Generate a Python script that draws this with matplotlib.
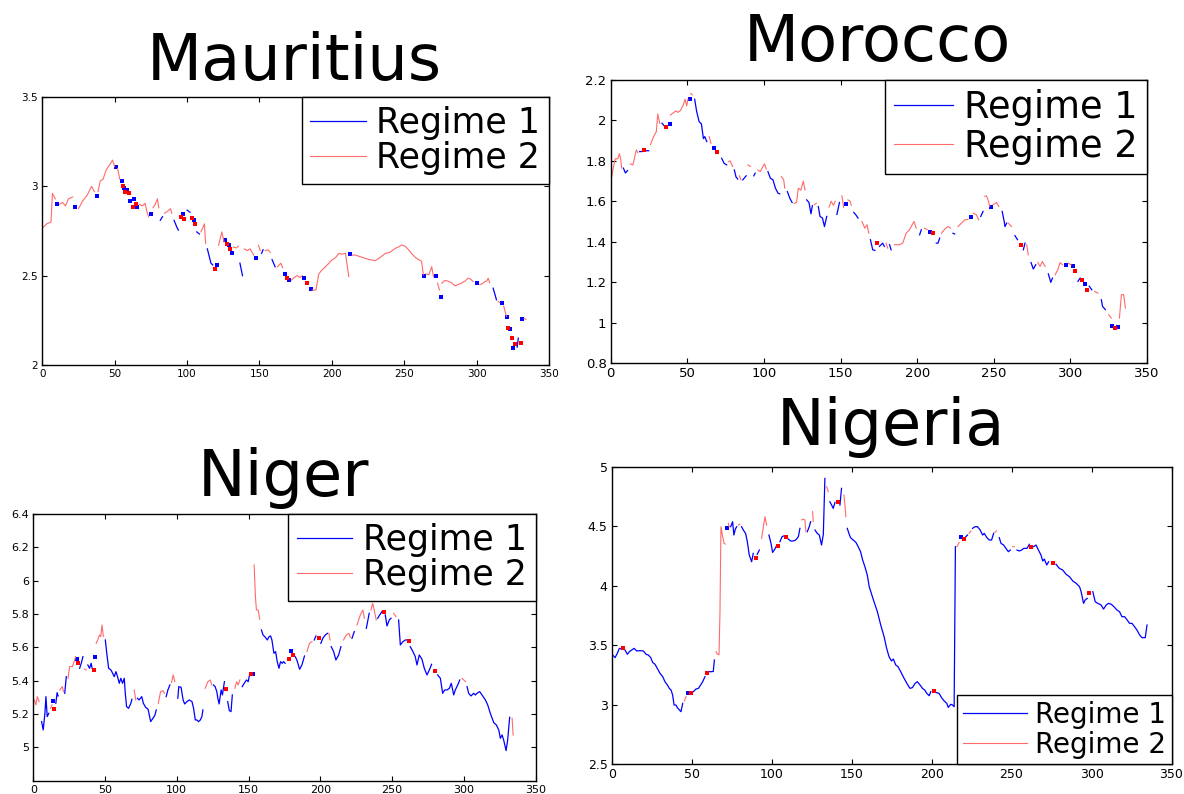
import numpy as np
import matplotlib
matplotlib.use("Agg")
import matplotlib.pyplot as plt
from matplotlib.ticker import FuncFormatter

# Each row: (observation index, log value, regime)
mauritius = [
    (0, 2.765, 2), (3, 2.79, 2), (6, 2.80, 2), (7, 2.96, 2), (9, 2.93, 2), (10, 2.90, 1),
    (12, 2.90, 2), (14, 2.91, 2), (16, 2.89, 2), (18, 2.93, 2), (21, 2.94, 2), (22.5, 2.885, 1),
    (25, 2.875, 2), (28, 2.92, 2), (31, 2.95, 2), (34, 3.00, 2), (36, 2.97, 2), (37.5, 2.945, 1),
    (38.5, 2.97, 2), (40, 3.03, 2), (42, 3.04, 2), (44, 3.09, 2), (46.5, 3.12, 2), (48.5, 3.147, 2),
    (50, 3.11, 2), (51, 3.11, 1), (52, 3.10, 2), (53.5, 3.04, 2), (55, 3.03, 1), (55.7, 3.00, 2),
    (56.3, 2.99, 1), (57.3, 2.97, 2), (58.7, 2.98, 1), (59.6, 2.96, 2), (60.8, 2.92, 1),
    (62.6, 2.885, 2), (63.5, 2.93, 1), (64.4, 2.90, 2), (65.3, 2.885, 1), (67, 2.90, 2),
    (69, 2.89, 2), (71, 2.905, 2), (72.2, 2.86, 2), (73.4, 2.83, 2), (75, 2.845, 1),
    (76.5, 2.88, 2), (78, 2.90, 2), (79.5, 2.93, 2), (80.5, 2.88, 2), (81.5, 2.81, 1),
    (83, 2.83, 1), (84.5, 2.85, 2), (86.5, 2.86, 2), (88.5, 2.875, 2), (89.5, 2.85, 2),
    (91, 2.81, 1), (93, 2.77, 1), (94, 2.755, 1), (95.5, 2.83, 2), (97, 2.845, 1),
    (98.2, 2.815, 2), (100, 2.867, 1), (102, 2.855, 1), (103.4, 2.823, 2), (105, 2.81, 1),
    (105.8, 2.787, 2), (106.7, 2.745, 1), (108.5, 2.733, 1), (109.6, 2.745, 2), (112, 2.79, 2),
    (112.8, 2.68, 2), (114, 2.65, 1), (116.5, 2.57, 1), (117.7, 2.56, 1), (119.3, 2.538, 2),
    (121, 2.56, 1), (121.8, 2.67, 2), (124, 2.745, 2), (125.5, 2.69, 2), (126.5, 2.70, 1),
    (127.5, 2.68, 2), (128.7, 2.67, 1), (129.7, 2.65, 2), (130.8, 2.625, 1), (132, 2.66, 2),
    (134, 2.655, 2), (135.5, 2.665, 2), (136.5, 2.57, 1), (138.3, 2.50, 1), (139.5, 2.65, 2),
    (141.5, 2.64, 2), (143.5, 2.65, 2), (146, 2.615, 2), (147.5, 2.60, 1), (149.3, 2.67, 2),
    (150.5, 2.64, 2), (151.5, 2.625, 1), (152.5, 2.645, 1), (154, 2.64, 2), (156, 2.645, 2),
    (157.5, 2.63, 2), (158.7, 2.59, 1), (160.8, 2.55, 1), (162.5, 2.55, 2), (164.7, 2.57, 2),
    (166, 2.545, 2), (167.7, 2.51, 1), (169.3, 2.486, 2), (170.4, 2.473, 1), (172, 2.475, 2),
    (174, 2.49, 2), (176, 2.50, 2), (178, 2.49, 2), (179.5, 2.50, 2), (180.7, 2.486, 1),
    (183, 2.458, 2), (185.3, 2.424, 1), (186.5, 2.42, 2), (189, 2.42, 2), (191, 2.51, 2),
    (193, 2.53, 2), (195.6, 2.55, 2), (198, 2.57, 2), (200, 2.588, 2), (202.5, 2.60, 2),
    (204.8, 2.625, 2), (207, 2.62, 2), (209.4, 2.625, 2), (211.7, 2.495, 2), (212.8, 2.62, 1),
    (214, 2.615, 2), (216, 2.616, 2), (220, 2.605, 2), (223, 2.597, 2), (226, 2.59, 2),
    (230, 2.584, 2), (233, 2.60, 2), (237, 2.625, 2), (240, 2.63, 2), (243.8, 2.653, 2),
    (246, 2.66, 2), (248.3, 2.672, 2), (250.6, 2.665, 2), (253, 2.645, 2), (255, 2.625, 2),
    (258, 2.60, 2), (262, 2.58, 2), (263.2, 2.505, 2), (263.8, 2.50, 1), (265, 2.51, 2),
    (267, 2.505, 2), (269, 2.55, 2), (270.2, 2.495, 2), (271.7, 2.50, 1), (273, 2.458, 2),
    (274.3, 2.42, 2), (275.2, 2.383, 1), (276, 2.458, 2), (278, 2.473, 2), (280, 2.47, 2),
    (282.7, 2.46, 2), (285, 2.443, 2), (287, 2.45, 2), (289.6, 2.458, 2), (292, 2.47, 2),
    (294.2, 2.486, 2), (296, 2.48, 2), (297.6, 2.467, 2), (300, 2.458, 1), (302.2, 2.45, 2),
    (304, 2.455, 2), (305.7, 2.467, 2), (307, 2.47, 2), (308, 2.486, 2), (309, 2.46, 2),
    (311.4, 2.43, 1), (312.5, 2.40, 1), (313.7, 2.365, 1), (314.8, 2.356, 2), (316, 2.35, 2),
    (317.6, 2.346, 1), (318.7, 2.33, 2), (320.6, 2.272, 2), (321.3, 2.27, 1), (321.9, 2.207, 2),
    (322.9, 2.203, 1), (324.3, 2.15, 2), (325.3, 2.095, 1), (326.5, 2.12, 2), (328, 2.10, 1),
    (328.8, 2.15, 1), (330.9, 2.123, 2), (331.6, 2.26, 1), (333, 2.26, 2), (334, 2.255, 2),
]

morocco = [
    (0.7, 1.722, 2), (1.8, 1.77, 2), (2.9, 1.81, 2), (4.6, 1.81, 2), (5.7, 1.835, 2), (6.6, 1.805, 2),
    (7.2, 1.764, 2), (8.3, 1.764, 1), (9.6, 1.74, 1), (11, 1.752, 1), (12.7, 1.785, 2),
    (14.5, 1.78, 2), (15.4, 1.81, 2), (16.7, 1.854, 2), (17.8, 1.84, 2), (18.9, 1.846, 1),
    (20.4, 1.846, 1), (21.5, 1.854, 2), (23, 1.85, 1), (24.8, 1.85, 1), (25.9, 1.88, 2),
    (28, 1.92, 2), (29.8, 1.945, 2), (30.7, 2.032, 2), (32, 1.986, 2), (33.5, 1.986, 1),
    (35, 1.973, 1), (36.2, 1.966, 2), (38.4, 1.983, 1), (39, 2.027, 2), (41.2, 2.04, 2),
    (42.5, 2.047, 2), (43.9, 2.04, 2), (45.6, 2.05, 2), (47.4, 2.077, 2), (48.5, 2.105, 2),
    (49.6, 2.072, 2), (50.4, 2.105, 2), (51.5, 2.106, 1), (52.2, 2.134, 2), (53.3, 2.126, 2),
    (54.8, 2.105, 1), (56.1, 2.044, 1), (57.7, 1.994, 1), (59.2, 1.983, 1), (60.5, 1.91, 1),
    (61.4, 1.92, 1), (62.7, 1.895, 1), (64.3, 1.92, 2), (65.4, 1.887, 2), (67.5, 1.862, 1),
    (69.3, 1.846, 2), (72.4, 1.813, 1), (74, 1.788, 1), (75.7, 1.78, 1), (76.8, 1.796, 2),
    (78, 1.80, 2), (79.6, 1.772, 2), (80.7, 1.755, 1), (81.8, 1.72, 1), (82.9, 1.71, 1),
    (84, 1.726, 2), (85, 1.706, 2), (86.2, 1.706, 1), (88.4, 1.726, 1), (89.5, 1.78, 2),
    (91.2, 1.772, 2), (93.4, 1.726, 1), (94.3, 1.739, 1), (96, 1.755, 2), (97.6, 1.747, 2),
    (99.3, 1.772, 2), (100.4, 1.785, 2), (101.5, 1.76, 2), (102.6, 1.747, 1), (104.2, 1.714, 1),
    (105.9, 1.706, 1), (107.5, 1.665, 1), (109.2, 1.64, 1), (110.3, 1.637, 1), (111.4, 1.722, 2),
    (112.9, 1.706, 2), (113.6, 1.665, 2), (115.3, 1.648, 1), (116.9, 1.615, 1), (118.4, 1.594, 1),
    (119.7, 1.59, 2), (121.3, 1.594, 2), (122.4, 1.665, 2), (124.1, 1.655, 2), (125.7, 1.70, 2),
    (126.8, 1.656, 2), (127.9, 1.607, 1), (129.4, 1.594, 1), (130.7, 1.538, 1), (131.6, 1.578, 1),
    (132.9, 1.583, 2), (134.2, 1.59, 2), (135.5, 1.574, 1), (136.6, 1.525, 1), (138.2, 1.517, 1),
    (139.5, 1.475, 1), (141, 1.525, 1), (142.5, 1.571, 2), (143.9, 1.60, 2), (145.4, 1.58, 2),
    (146.5, 1.60, 2), (147.6, 1.535, 1), (149.3, 1.594, 1), (150.9, 1.627, 2), (152, 1.57, 2),
    (153.5, 1.587, 1), (154.8, 1.607, 2), (156.3, 1.60, 2), (157, 1.58, 2), (158.6, 1.545, 1),
    (160, 1.533, 1), (161.4, 1.517, 1), (164, 1.50, 2), (165.8, 1.467, 2), (167.3, 1.484, 2),
    (168.4, 1.442, 2), (169.5, 1.41, 1), (171, 1.36, 1), (172.4, 1.357, 1), (173.9, 1.393, 2),
    (175.4, 1.377, 1), (177.5, 1.393, 1), (178.6, 1.377, 1), (179.7, 1.393, 2), (180.8, 1.368, 2),
    (182, 1.385, 1), (183, 1.36, 1), (185.2, 1.385, 2), (188.5, 1.385, 2), (190.6, 1.393, 2),
    (192.8, 1.442, 2), (195, 1.459, 2), (196.1, 1.475, 2), (197.9, 1.50, 2), (199.4, 1.467, 2),
    (201.6, 1.434, 1), (202.7, 1.459, 1), (204.8, 1.467, 2), (206.5, 1.46, 2), (208.1, 1.45, 1),
    (210.3, 1.442, 2), (212.5, 1.393, 1), (213.6, 1.393, 1), (214.7, 1.418, 1), (215.8, 1.442, 2),
    (218, 1.462, 2), (220.1, 1.475, 2), (221.8, 1.467, 2), (223.4, 1.442, 1), (224.5, 1.438, 1),
    (226.7, 1.475, 2), (228.9, 1.492, 2), (231.1, 1.508, 2), (233.2, 1.51, 2), (235, 1.52, 1),
    (236.5, 1.541, 2), (238.7, 1.533, 2), (240.2, 1.508, 2), (241.5, 1.525, 1), (243, 1.55, 1),
    (244.2, 1.624, 2), (245.2, 1.627, 2), (246.3, 1.607, 2), (247.4, 1.574, 2), (248.5, 1.574, 1),
    (249.6, 1.583, 2), (251.8, 1.594, 2), (253.3, 1.574, 2), (255.5, 1.55, 1), (256.8, 1.50, 1),
    (257.3, 1.475, 1), (258.4, 1.492, 1), (259.4, 1.492, 2), (261.6, 1.475, 2), (263.8, 1.43, 1),
    (265.5, 1.41, 1), (267.7, 1.385, 2), (269.3, 1.36, 1), (270.4, 1.393, 1), (271.5, 1.385, 2),
    (272.5, 1.335, 2), (274.3, 1.297, 1), (275.8, 1.265, 1), (277.4, 1.286, 1), (278.7, 1.297, 2),
    (280.2, 1.278, 2), (281.7, 1.302, 2), (283.5, 1.278, 2), (285.6, 1.241, 1), (287.2, 1.199, 1),
    (288.3, 1.22, 1), (290, 1.236, 2), (291.8, 1.261, 2), (293.3, 1.297, 2), (294.8, 1.286, 2),
    (297, 1.286, 1), (298.8, 1.294, 2), (300.5, 1.285, 2), (302, 1.281, 1), (303.1, 1.253, 2),
    (304.9, 1.204, 1), (306.4, 1.22, 1), (307.9, 1.21, 2), (309.7, 1.192, 1), (310.8, 1.162, 2),
    (312.3, 1.18, 1), (314, 1.162, 1), (315.8, 1.154, 2), (318, 1.146, 2), (320.2, 1.113, 1),
    (321, 1.08, 1), (322.8, 1.064, 1), (325, 1.039, 2), (326.7, 1.022, 2), (327.3, 0.985, 1),
    (329.3, 0.973, 2), (331.1, 0.976, 1), (332, 1.022, 2), (333.3, 1.138, 2), (334.8, 1.138, 2),
    (335.9, 1.072, 2),
]

niger = [
    (0.7, 5.284, 2), (1.8, 5.254, 2), (2.8, 5.304, 2), (4.1, 5.274, 2), (5.8, 5.154, 1),
    (6.9, 5.104, 1), (8.1, 5.204, 1), (8.8, 5.304, 1), (9.7, 5.184, 1), (10.8, 5.204, 1),
    (12, 5.234, 2), (13.1, 5.254, 2), (13.8, 5.278, 1), (14.5, 5.228, 2), (15.7, 5.264, 1),
    (16.6, 5.328, 1), (17.3, 5.308, 1), (18.4, 5.344, 2), (20.3, 5.364, 2), (21, 5.334, 2),
    (21.9, 5.324, 1), (23, 5.424, 1), (24.2, 5.414, 2), (25.3, 5.484, 2), (27.2, 5.484, 2),
    (28.1, 5.504, 2), (29.5, 5.544, 2), (30.4, 5.528, 1), (31.1, 5.504, 2), (32.3, 5.474, 1),
    (33.4, 5.504, 1), (34.6, 5.544, 1), (35.7, 5.47, 2), (36.9, 5.464, 2), (38, 5.494, 1),
    (39.2, 5.474, 1), (40.3, 5.504, 1), (41, 5.474, 1), (42.6, 5.464, 2), (43.3, 5.544, 1),
    (43.8, 5.624, 2), (44.9, 5.644, 2), (46.1, 5.674, 2), (47, 5.664, 2), (47.9, 5.734, 2),
    (48.8, 5.664, 2), (50.2, 5.644, 1), (51.2, 5.564, 1), (52.5, 5.474, 1), (54.1, 5.464, 1),
    (55.3, 5.444, 1), (56.4, 5.424, 1), (57.6, 5.454, 1), (58.7, 5.424, 1), (59.9, 5.384, 1),
    (61, 5.414, 1), (62.2, 5.384, 1), (63.4, 5.414, 1), (64.1, 5.324, 1), (65, 5.244, 1),
    (66.4, 5.234, 1), (68, 5.264, 1), (68.7, 5.288, 1), (70.3, 5.344, 2), (71.4, 5.284, 2),
    (72.6, 5.294, 1), (73.7, 5.284, 1), (75.6, 5.304, 1), (76.7, 5.264, 1), (78.3, 5.24, 1),
    (80, 5.228, 1), (81.8, 5.154, 1), (83.4, 5.174, 1), (84.8, 5.194, 1), (85.7, 5.224, 1),
    (87.1, 5.264, 2), (88.7, 5.334, 2), (90.3, 5.34, 2), (91.5, 5.324, 2), (92.6, 5.304, 1),
    (93.8, 5.344, 1), (95.2, 5.374, 1), (96.3, 5.388, 2), (97.5, 5.434, 2), (98.6, 5.394, 2),
    (100.7, 5.294, 1), (101.4, 5.364, 1), (103, 5.36, 1), (104.4, 5.284, 1), (105.5, 5.26, 1),
    (107.1, 5.274, 1), (108.7, 5.284, 1), (110.6, 5.274, 1), (111.7, 5.234, 1), (112.9, 5.164, 1),
    (114, 5.164, 1), (115.2, 5.154, 1), (116.4, 5.164, 1), (117.5, 5.184, 1), (118.2, 5.224, 1),
    (119.8, 5.354, 2), (121.7, 5.394, 2), (123.3, 5.404, 2), (124.4, 5.374, 2), (125.6, 5.374, 1),
    (126.7, 5.364, 1), (127.9, 5.334, 1), (128.6, 5.294, 1), (129.5, 5.26, 1), (130.9, 5.344, 1),
    (131.8, 5.314, 1), (133.2, 5.394, 1), (134.3, 5.348, 2), (135.5, 5.274, 1), (136.6, 5.22, 1),
    (137.8, 5.214, 1), (138.7, 5.314, 1), (140.5, 5.354, 2), (141.7, 5.394, 2), (142.8, 5.374, 2),
    (144, 5.404, 2), (145.6, 5.364, 1), (147, 5.384, 1), (148.6, 5.404, 1), (149.8, 5.394, 1),
    (150.9, 5.444, 1), (152, 5.438, 2), (153.2, 5.44, 1), (153.9, 6.094, 2), (154.8, 5.904, 2),
    (155.5, 5.824, 2), (156.7, 5.824, 2), (157.8, 5.768, 2), (159, 5.704, 1), (160.1, 5.674, 1),
    (161.3, 5.664, 1), (163.1, 5.644, 1), (164.3, 5.664, 1), (165.4, 5.668, 1), (166.3, 5.644, 1),
    (167.7, 5.564, 1), (168.9, 5.574, 1), (170, 5.514, 1), (171.2, 5.474, 1), (172.3, 5.514, 1),
    (173.5, 5.504, 1), (174.4, 5.514, 1), (175.5, 5.504, 1), (177.9, 5.528, 2), (179.7, 5.578, 1),
    (180.7, 5.554, 2), (182.5, 5.544, 1), (183.7, 5.524, 1), (185.6, 5.468, 1), (187.2, 5.494, 1),
    (189, 5.548, 1), (190.7, 5.574, 2), (192.5, 5.624, 2), (194.2, 5.634, 2), (195.8, 5.644, 1),
    (197, 5.668, 1), (198.8, 5.654, 2), (200.4, 5.624, 1), (201.8, 5.654, 1), (203.5, 5.674, 1),
    (205.1, 5.684, 1), (206, 5.684, 2), (206.8, 5.644, 2), (207.6, 5.604, 1), (209.3, 5.574, 1),
    (210.9, 5.524, 1), (212.8, 5.554, 1), (214.4, 5.604, 1), (216.2, 5.644, 2), (218.1, 5.674, 2),
    (220, 5.684, 2), (220.9, 5.66, 2), (222.1, 5.654, 1), (223.7, 5.694, 1), (225.6, 5.734, 2),
    (227.9, 5.794, 2), (229.7, 5.824, 2), (230.7, 5.774, 2), (232.1, 5.714, 1), (233.2, 5.764, 1),
    (234.1, 5.804, 1), (235.3, 5.824, 2), (236.5, 5.864, 2), (237.6, 5.824, 2), (239, 5.764, 2),
    (240, 5.774, 1), (241.4, 5.794, 1), (243, 5.814, 1), (244.2, 5.81, 2), (245.3, 5.794, 1),
    (246.5, 5.728, 1), (248.1, 5.764, 1), (249.3, 5.774, 1), (251.1, 5.804, 2), (252.8, 5.784, 2),
    (254.6, 5.764, 1), (255.8, 5.614, 1), (257.6, 5.634, 1), (259.3, 5.644, 1), (260.4, 5.644, 1),
    (261.6, 5.638, 2), (262.7, 5.604, 1), (264.6, 5.574, 1), (266.2, 5.544, 1), (267.4, 5.494, 1),
    (269, 5.554, 1), (270.9, 5.528, 1), (272.5, 5.474, 1), (274.4, 5.434, 1), (276, 5.464, 1),
    (277.6, 5.498, 1), (280, 5.458, 2), (281.8, 5.434, 1), (283.7, 5.414, 1), (285.3, 5.324, 1),
    (286.7, 5.344, 1), (288.3, 5.344, 1), (290, 5.354, 1), (291.3, 5.384, 1), (293, 5.314, 1),
    (294.1, 5.344, 1), (295.8, 5.374, 1), (297.2, 5.404, 1), (298.8, 5.414, 2), (300, 5.404, 2),
    (301.2, 5.394, 2), (302.3, 5.364, 1), (303.4, 5.324, 1), (305, 5.308, 1), (306.9, 5.324, 1),
    (308.1, 5.314, 1), (309.2, 5.324, 1), (311.1, 5.334, 1), (312.7, 5.314, 1), (315.1, 5.284, 1),
    (316.7, 5.254, 1), (318.5, 5.204, 1), (320.9, 5.148, 1), (322.7, 5.134, 1), (324.4, 5.104, 1),
    (325.5, 5.054, 1), (326.7, 5.074, 1), (327.8, 5.044, 1), (329.5, 4.98, 1), (330.6, 5.044, 1),
    (332, 5.18, 1), (333.7, 5.174, 2), (334.4, 5.074, 2),
]

nigeria = [
    (0.6, 3.418, 1), (2.1, 3.396, 1), (3.5, 3.432, 1), (4.8, 3.474, 1), (6.2, 3.468, 1),
    (7.3, 3.48, 2), (8.3, 3.46, 1), (9.8, 3.424, 1), (11, 3.446, 1), (12.5, 3.46, 1),
    (14, 3.474, 1), (15.6, 3.452, 1), (17.7, 3.455, 1), (19.8, 3.452, 1), (21.5, 3.424, 1),
    (22.9, 3.418, 1), (24.4, 3.396, 1), (25.6, 3.356, 1), (27.1, 3.34, 1), (28.5, 3.306, 1),
    (30.2, 3.264, 1), (31.9, 3.236, 1), (33.3, 3.194, 1), (34.8, 3.166, 1), (36, 3.138, 1),
    (37.1, 3.124, 1), (38.1, 3.082, 1), (39, 2.998, 1), (40.2, 2.998, 1), (41, 2.976, 1),
    (42.3, 2.956, 1), (43.3, 2.942, 1), (44.4, 3.012, 1), (45.4, 3.032, 2), (46.5, 3.068, 2),
    (47.9, 3.102, 1), (49.6, 3.102, 2), (51, 3.11, 1), (52.7, 3.132, 1), (54.2, 3.138, 1),
    (55.6, 3.166, 1), (56.9, 3.194, 1), (58.3, 3.236, 1), (59.4, 3.264, 2), (61, 3.278, 1),
    (62.5, 3.278, 1), (63.5, 3.28, 1), (64.2, 3.376, 1), (65.2, 3.446, 2), (66.2, 3.424, 2),
    (67.1, 3.42, 2), (67.7, 3.782, 2), (68.3, 4.496, 2), (69.2, 4.426, 2), (70.2, 4.356, 2),
    (71, 4.35, 2), (71.9, 4.482, 1), (72.9, 4.524, 2), (73.5, 4.496, 2), (74.4, 4.496, 1),
    (75.6, 4.538, 1), (76.4, 4.426, 1), (77.3, 4.476, 1), (78.1, 4.496, 1), (79.2, 4.51, 2),
    (80.2, 4.515, 2), (81.2, 4.496, 1), (82.3, 4.468, 1), (83.7, 4.44, 1), (84.8, 4.37, 1),
    (86, 4.258, 1), (87.5, 4.202, 1), (88.5, 4.272, 1), (90, 4.236, 2), (91, 4.264, 1),
    (92.3, 4.30, 1), (93.7, 4.398, 2), (94.8, 4.496, 2), (95.8, 4.58, 2), (96.9, 4.51, 2),
    (98.3, 4.426, 1), (99.6, 4.356, 1), (100.6, 4.28, 1), (102.1, 4.31, 1), (103.1, 4.336, 1),
    (104.2, 4.336, 2), (105.2, 4.37, 1), (106.5, 4.412, 1), (107.5, 4.418, 1), (108.7, 4.412, 2),
    (110.4, 4.392, 1), (111.9, 4.376, 1), (113.5, 4.376, 1), (115, 4.384, 1), (116.7, 4.412, 1),
    (117.7, 4.482, 1), (118.7, 4.552, 2), (119.8, 4.56, 2), (120.8, 4.552, 2), (121.4, 4.454, 2),
    (122.3, 4.454, 1), (123.5, 4.496, 1), (124.4, 4.538, 1), (125.6, 4.622, 2), (126, 4.54, 2),
    (127.1, 4.468, 1), (128.5, 4.44, 1), (129.8, 4.426, 1), (131.2, 4.342, 1), (132.3, 4.43, 1),
    (133.3, 4.902, 1), (134.4, 4.832, 2), (135.4, 4.79, 2), (136.4, 4.706, 1), (137.5, 4.678, 1),
    (138.5, 4.65, 1), (139.6, 4.70, 1), (141.2, 4.70, 2), (142.7, 4.678, 1), (143.7, 4.818, 1),
    (145.2, 4.762, 2), (145.8, 4.68, 2), (146.4, 4.58, 2), (147.3, 4.482, 1), (148.3, 4.44, 1),
    (149.3, 4.404, 1), (151, 4.384, 1), (152.7, 4.364, 1), (154.1, 4.328, 1), (155.6, 4.286, 1),
    (156.9, 4.216, 1), (158.3, 4.16, 1), (159.8, 4.09, 1), (161, 3.992, 1), (164, 3.866, 1),
    (166.1, 3.782, 1), (168.2, 3.67, 1), (170.3, 3.572, 1), (171.9, 3.474, 1), (173.4, 3.404, 1),
    (174.9, 3.368, 1), (176.1, 3.384, 1), (177.6, 3.334, 1), (179, 3.32, 1), (180.7, 3.278, 1),
    (182.8, 3.222, 1), (184.9, 3.172, 1), (186.5, 3.138, 1), (188, 3.144, 1), (189.7, 3.18, 1),
    (191.1, 3.194, 1), (192.8, 3.166, 1), (194.3, 3.138, 1), (195.7, 3.124, 1), (197, 3.096, 1),
    (198.5, 3.076, 1), (199.5, 3.11, 1), (201.2, 3.118, 2), (202.6, 3.104, 1), (204.7, 3.096, 1),
    (206.2, 3.06, 1), (207.9, 3.032, 1), (209.5, 3.012, 1), (210.4, 2.978, 1), (212, 3.004, 1),
    (213.1, 2.998, 1), (214.1, 2.984, 1), (214.9, 4.328, 1), (215.8, 4.328, 2), (217.3, 4.364, 2),
    (218.7, 4.412, 1), (220, 4.392, 2), (221.4, 4.412, 1), (222.5, 4.426, 1), (223.5, 4.44, 2),
    (224.6, 4.46, 2), (225.6, 4.482, 1), (227.1, 4.496, 1), (228.7, 4.496, 1), (230.4, 4.468, 1),
    (231.9, 4.426, 1), (232.9, 4.44, 1), (234.6, 4.404, 1), (236.1, 4.384, 1), (237.5, 4.384, 1),
    (238.8, 4.44, 1), (239.6, 4.448, 2), (240.5, 4.46, 2), (242.3, 4.404, 1), (243.4, 4.356, 1),
    (245, 4.342, 1), (246.5, 4.314, 1), (248, 4.286, 1), (249.2, 4.30, 1), (250.7, 4.328, 2),
    (251.7, 4.328, 2), (253.4, 4.30, 1), (254.9, 4.292, 1), (256.3, 4.30, 1), (257.6, 4.314, 1),
    (259.7, 4.314, 1), (261.1, 4.348, 1), (262.2, 4.328, 2), (263.8, 4.328, 1), (265.3, 4.342, 1),
    (266.8, 4.30, 1), (268.4, 4.258, 1), (269.5, 4.208, 1), (270.5, 4.224, 1), (272, 4.174, 1),
    (273.2, 4.202, 1), (275.8, 4.188, 2), (277.8, 4.18, 1), (279.9, 4.146, 1), (282, 4.132, 1),
    (284.1, 4.096, 1), (286.2, 4.076, 1), (288.3, 4.04, 1), (290.4, 4.02, 1), (292.5, 3.992, 1),
    (293.5, 3.95, 1), (295, 3.852, 1), (296, 3.88, 1), (297.3, 3.894, 1), (298.7, 3.936, 2),
    (300.8, 3.95, 1), (302.3, 3.866, 1), (303.9, 3.852, 1), (306, 3.838, 1), (307.5, 3.804, 1),
    (309.2, 3.838, 1), (310.6, 3.852, 1), (312.3, 3.845, 1), (314, 3.824, 1), (315.9, 3.796, 1),
    (317.5, 3.782, 1), (319, 3.74, 1), (320.7, 3.74, 1), (322.3, 3.712, 1), (323.8, 3.684, 1),
    (325.3, 3.684, 1), (326.9, 3.656, 1), (328.4, 3.628, 1), (330.1, 3.586, 1), (331.5, 3.564, 1),
    (333.6, 3.564, 1), (334.7, 3.67, 1),
]

country_names = ["Mauritius", "Morocco", "Niger", "Nigeria"]
regime_names = ["Regime 1", "Regime 2"]
x_ticks = [0, 50, 100, 150, 200, 250, 300, 350]
y_ticks = {
    "Mauritius": [2, 2.5, 3, 3.5],
    "Morocco": [0.8, 1, 1.2, 1.4, 1.6, 1.8, 2, 2.2],
    "Niger": [5, 5.2, 5.4, 5.6, 5.8, 6, 6.2, 6.4],
    "Nigeria": [2.5, 3, 3.5, 4, 4.5, 5],
}
y_limits = {
    "Mauritius": (2, 3.5),
    "Morocco": (0.8, 2.2),
    "Niger": (4.8, 6.4),
    "Nigeria": (2.5, 5),
}

BLUE = "#0000ff"
RED_LINE = "#ff6a6a"
RED_DOT = "#ff0000"

W, H = 1184, 794
fig = plt.figure(figsize=(W / 100, H / 100), dpi=100)
fig.patch.set_facecolor("white")

# panel geometry in pixels: (left, top, right, bottom)
big_legend = dict(fs=25, hl=1.6, tp=0.3, bp=0.25, ls=0.05)
layout = {
    "Mauritius": dict(box=(42.3, 97, 549, 365), title=(294, 80), tick_fs=7.5,
                      leg=dict(loc="upper right", anchor=(1, 1), **big_legend)),
    "Morocco": dict(box=(610.7, 80, 1147, 363), title=(877, 61), tick_fs=9.5,
                    leg=dict(loc="upper right", anchor=(1, 1), fs=26.5, hl=1.6, tp=0.3,
                             bp=0.25, ls=0.05)),
    "Niger": dict(box=(33.3, 514, 535.5, 780.6), title=(284, 496), tick_fs=8,
                  leg=dict(loc="upper right", anchor=(1, 1), **big_legend)),
    "Nigeria": dict(box=(611.7, 466.7, 1171.5, 764.3), title=(891, 445), tick_fs=9,
                    leg=dict(loc="lower right", anchor=(1, 0), fs=20, hl=2.3, tp=0.3,
                             bp=0.2, ls=0.08)),
}

datasets = {"Mauritius": mauritius, "Morocco": morocco, "Niger": niger, "Nigeria": nigeria}


def fmt_g(val, pos):
    return "%g" % round(val, 6)


def draw_series(ax, rows):
    arr = np.array(rows, dtype=float)
    t, v, s = arr[:, 0], arr[:, 1], arr[:, 2].astype(int)
    handles = []
    for reg, line_col, dot_col, lw in ((1, BLUE, BLUE, 0.9), (2, RED_LINE, RED_DOT, 0.8)):
        on = s == reg
        h, = ax.plot(t, np.where(on, v, np.nan), color=line_col, lw=lw)
        before = np.r_[False, on[:-1]]
        after = np.r_[on[1:], False]
        lone = on & ~before & ~after
        ax.plot(t[lone], v[lone], ls="none", marker="s", ms=2.6, mew=0, color=dot_col)
        handles.append(h)
    return handles


for name in country_names:
    cfg = layout[name]
    l, t, r, b = cfg["box"]
    ax = fig.add_axes([l / W, 1 - b / H, (r - l) / W, (b - t) / H])
    handles = draw_series(ax, datasets[name])

    ax.set_xlim(0, 350)
    ax.set_ylim(*y_limits[name])
    ax.set_xticks(x_ticks)
    ax.set_yticks(y_ticks[name])
    ax.xaxis.set_major_formatter(FuncFormatter(fmt_g))
    ax.yaxis.set_major_formatter(FuncFormatter(fmt_g))
    ax.tick_params(direction="in", top=True, right=True, length=3.5, width=0.8,
                   labelsize=cfg["tick_fs"], pad=3, colors="black")
    for sp in ax.spines.values():
        sp.set_linewidth(1.0)
        sp.set_color("black")

    lg = cfg["leg"]
    leg = ax.legend(handles, regime_names, loc=lg["loc"], bbox_to_anchor=lg["anchor"],
                    borderaxespad=0, fontsize=lg["fs"], handlelength=lg["hl"],
                    handletextpad=lg["tp"], borderpad=lg["bp"], labelspacing=lg["ls"],
                    fancybox=False, framealpha=1, edgecolor="black")
    leg.get_frame().set_linewidth(1.0)

    tx, ty = cfg["title"]
    fig.text(tx / W, 1 - ty / H, name, ha="center", va="baseline", fontsize=46, color="black")

fig.savefig("out.png", dpi=100, facecolor="white")
